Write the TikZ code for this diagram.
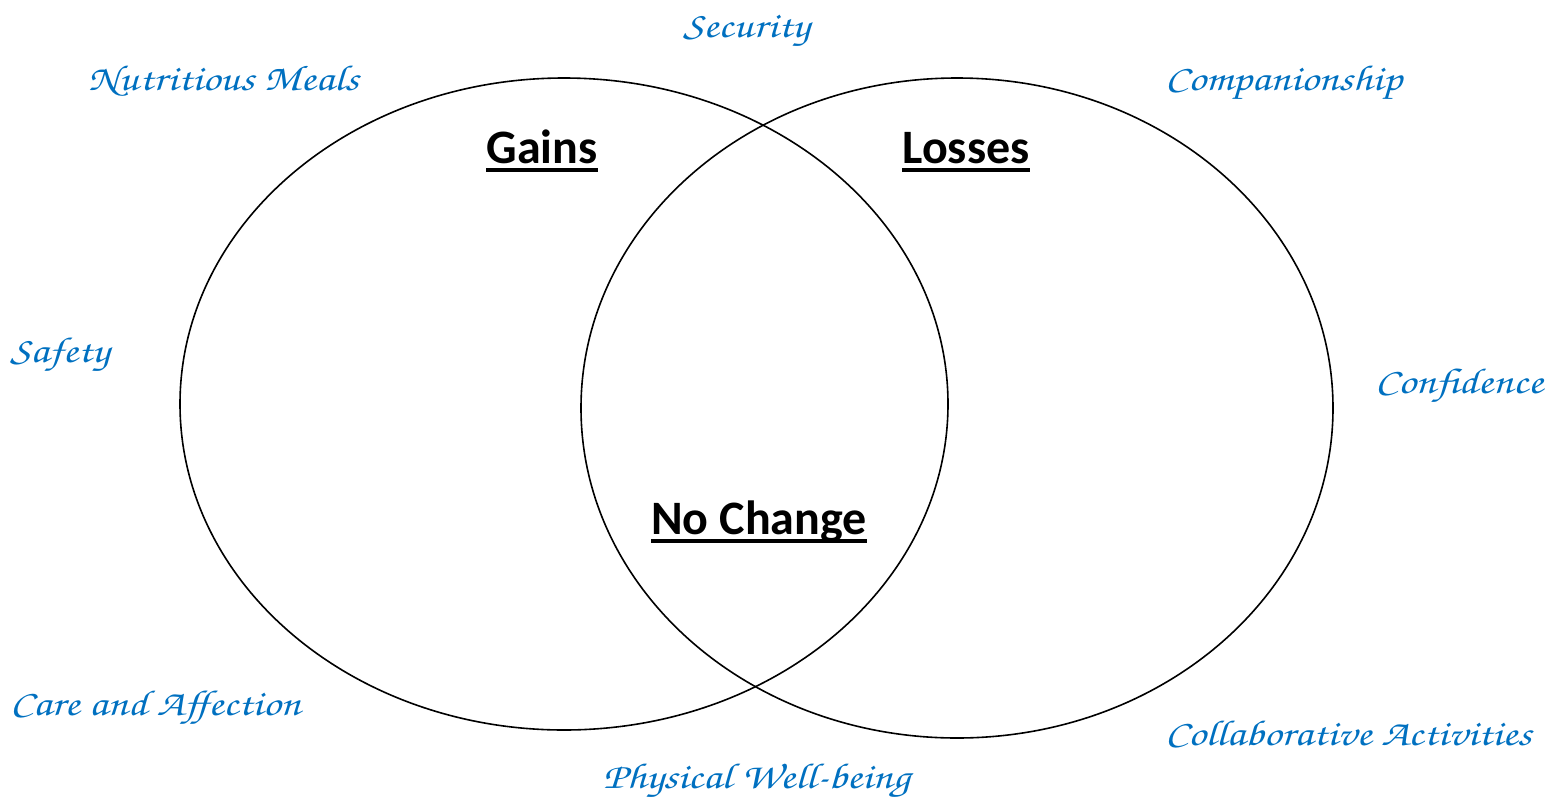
\documentclass[tikz,border=0pt]{standalone}
\usepackage{fontspec}
\setmainfont{Carlito}
\newfontfamily\handfont[FakeStretch=1.22]{texgyrechorus-mediumitalic.otf}
\definecolor{labelblue}{HTML}{0070C0}
\begin{document}
\begin{tikzpicture}[x=1pt,y=-1pt,
  region/.style={font=\fontsize{48}{52}\selectfont\bfseries, inner sep=0pt, anchor=base},
  rule/.style={line width=3.5pt},
  item/.style={font=\fontsize{36}{40}\handfont, text=labelblue, inner sep=0pt, anchor=base west},
  ring/.style={draw=black, line width=1.6pt}]
\useasboundingbox (0,0) rectangle (1556,796);
% the two overlapping sets
\draw[ring] (564,404) ellipse [x radius=384, y radius=326];
\draw[ring] (957,408) ellipse [x radius=376, y radius=330];
% set headings, underlined
\node[region] (gains) at (542,163) {Gains};
\node[region] (losses) at (966,163) {Losses};
\node[region] (nochange) at (759,534) {No Change};
\foreach \h in {gains,losses,nochange}
  \draw[rule] ([yshift=-7pt]\h.base west) -- ([yshift=-7pt]\h.base east);
% items around the diagram
\node[item] (security) at (683,37) {Security};
\node[item] (meals) at (88,90) {Nutritious Meals};
\node[item] (companion) at (1165,90) {Companionship};
\node[item] (safety) at (10,362) {Safety};
\node[item] (confidence) at (1375,393) {Confidence};
\node[item] (care) at (10,715) {Care and Affection};
\node[item] (collab) at (1165,745) {Collaborative Activities};
\node[item] (physical) at (603,788) {Physical Well-being};
\end{tikzpicture}
\end{document}
